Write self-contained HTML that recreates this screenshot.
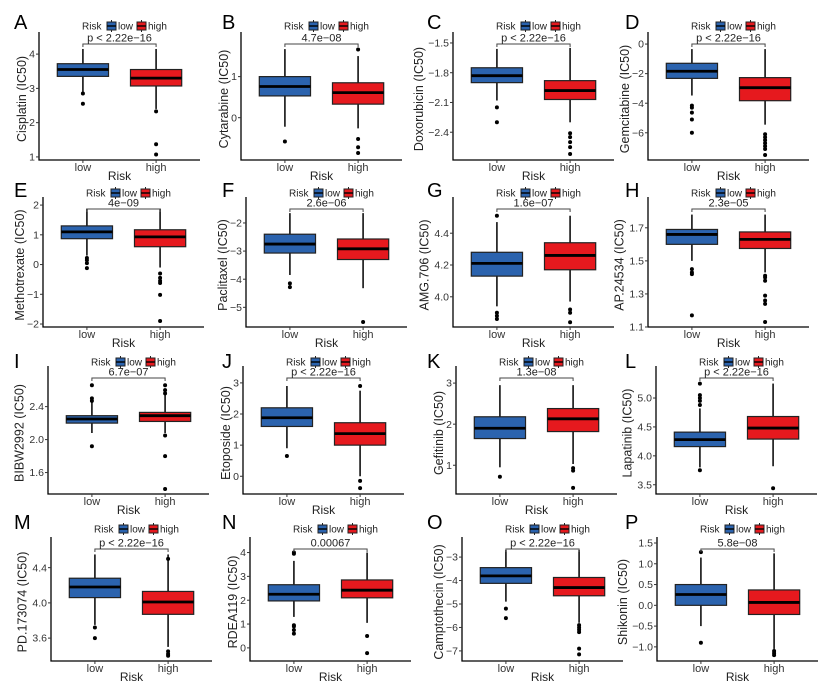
<!DOCTYPE html>
<html><head><meta charset="utf-8">
<style>
html,body{margin:0;padding:0;background:#fff;}
svg{display:block;font-family:"Liberation Sans",Arial,sans-serif;}
</style></head>
<body>
<svg id="fig" width="828" height="696" viewBox="0 0 828 696"></svg>
<script>
// ---- data ----
const panelLetters = ["A","B","C","D","E","F","G","H","I","J","K","L","M","N","O","P"];
const drugNames = ["Cisplatin","Cytarabine","Doxorubicin","Gemcitabine","Methotrexate","Paclitaxel","AMG.706","AP.24534","BIBW2992","Etoposide","Gefitinib","Lapatinib","PD.173074","RDEA119","Camptothecin","Shikonin"];
const pTexts = ["p < 2.22e\u221216","4.7e\u221208","p < 2.22e\u221216","p < 2.22e\u221216","4e\u221209","2.6e\u221206","1.6e\u221207","2.3e\u221205","6.7e\u221207","p < 2.22e\u221216","1.3e\u221208","p < 2.22e\u221216","p < 2.22e\u221216","0.00067","p < 2.22e\u221216","5.8e\u221208"];
const categories = ["low","high"];
const yDomains = [[0.91,4.47],[-1.03,1.94],[-2.68,-1.45],[-7.84,0.41],[-2.1,2.07],[-5.7,-1.29],[3.81,4.59],[1.1,1.85],[1.34,2.82],[-0.57,3.35],[0.3,3.27],[3.34,5.45],[3.34,4.68],[-0.55,4.4],[-7.43,-2.4],[-1.34,1.5]];
const tickValues = [[1,2,3,4],[0,1],[-2.4,-2.1,-1.8,-1.5],[-6,-4,-2,0],[-2,-1,0,1,2],[-5,-4,-3,-2],[4.0,4.2,4.4],[1.1,1.3,1.5,1.7],[1.6,2.0,2.4],[0,1,2,3],[1,2,3],[3.5,4.0,4.5,5.0],[3.6,4.0,4.4],[0,1,2,3,4],[-7,-6,-5,-4,-3],[-1.0,-0.5,0.0,0.5,1.0,1.5]];
const tickLabels = [["1","2","3","4"],["0","1"],["\u22122.4","\u22122.1","\u22121.8","\u22121.5"],["\u22126","\u22124","\u22122","0"],["\u22122","\u22121","0","1","2"],["\u22125","\u22124","\u22123","\u22122"],["4.0","4.2","4.4"],["1.1","1.3","1.5","1.7"],["1.6","2.0","2.4"],["0","1","2","3"],["1","2","3"],["3.5","4.0","4.5","5.0"],["3.6","4.0","4.4"],["0","1","2","3","4"],["\u22127","\u22126","\u22125","\u22124","\u22123"],["\u22121.0","\u22120.5","0.0","0.5","1.0","1.5"]];
// box stats: [whiskerLow, q1, median, q3, whiskerHigh]
const lowStats = [[2.9,3.35,3.55,3.72,4.15],[-0.22,0.53,0.76,1.0,1.67],[-2.08,-1.9,-1.83,-1.75,-1.56],[-3.48,-2.32,-1.84,-1.3,-0.34],[0.3,0.87,1.1,1.3,1.88],[-3.85,-3.07,-2.75,-2.4,-1.65],[3.94,4.13,4.21,4.28,4.47],[1.5,1.6,1.66,1.69,1.78],[2.08,2.2,2.25,2.29,2.46],[0.9,1.6,1.88,2.2,2.9],[0.95,1.65,1.9,2.18,2.95],[3.8,4.16,4.28,4.41,4.82],[3.75,4.06,4.18,4.28,4.55],[1.3,1.97,2.25,2.65,3.65],[-4.9,-4.12,-3.8,-3.45,-2.7],[-0.5,0.0,0.26,0.5,1.15]];
const highStats = [[2.4,3.07,3.3,3.55,4.15],[-0.26,0.33,0.61,0.85,1.5],[-2.3,-2.07,-1.98,-1.88,-1.55],[-5.45,-3.83,-2.95,-2.27,-0.34],[-0.1,0.6,0.93,1.17,1.88],[-4.32,-3.3,-2.92,-2.57,-1.65],[3.97,4.17,4.26,4.34,4.51],[1.43,1.575,1.63,1.675,1.78],[2.08,2.22,2.29,2.33,2.55],[0.0,1.0,1.37,1.72,2.75],[1.03,1.82,2.13,2.38,2.95],[3.82,4.29,4.48,4.68,5.25],[3.5,3.87,4.01,4.13,4.55],[1.05,2.1,2.42,2.85,4.0],[-5.8,-4.65,-4.3,-3.87,-2.7],[-1.05,-0.22,0.07,0.37,1.25]];
const lowOutliers = [[2.85,2.55],[-0.58],[-2.15,-2.3],[-4.16,-4.3,-4.64,-5.1,-6.0],[0.22,0.15,0.05,-0.12],[-4.15,-4.28],[4.51,3.9,3.88,3.86],[1.45,1.43,1.42,1.17],[2.47,2.5,2.66,1.92],[0.65],[0.72],[4.88,4.95,5.0,5.05,5.25,3.75],[3.72,3.6],[4.0,3.95,0.95,0.9,0.75,0.6],[-5.2,-5.6],[1.28,-0.9]];
const highOutliers = [[2.33,1.37,1.07],[1.66,-0.52,-0.72,-0.86],[-2.41,-2.45,-2.5,-2.55,-2.62],[-6.1,-6.3,-6.5,-6.7,-6.9,-7.1,-7.5],[-0.3,-0.45,-0.55,-0.62,-1.02,-1.9],[-5.52],[3.92,3.9,3.84],[1.41,1.4,1.38,1.29,1.26,1.24,1.13],[2.56,2.6,2.66,2.05,1.8,1.4],[2.9,-0.15,-0.38],[0.93,0.87,0.45],[3.44],[4.5,3.45,3.42,3.4],[0.5,-0.22],[-5.9,-6.0,-6.1,-6.2,-6.9,-7.15],[-1.1,-1.15,-1.2]];

// ---- layout (pixel geometry, not data) ----
const axisXs = [39,241,453,648, 43,246,453,648, 48,243,456,656, 51,250,462,657];
const letterXs = [14,222,427,625];
const rowAxisY = [160,327,494,661];
const rowTopY = [38,203,372,543];
const rowLetterY = [29,197,368,529];
const rowLegendY = [26,193,362,529];
const COLORS = ["#2b63ae","#e6191e"];

const NS = "http://www.w3.org/2000/svg";
const svg = document.getElementById("fig");
function mk(tag, attrs, parent){
  const e = document.createElementNS(NS, tag);
  for (const k in attrs) e.setAttribute(k, attrs[k]);
  (parent||svg).appendChild(e);
  return e;
}

panelLetters.forEach((L, i) => {
  const r = Math.floor(i/4), c = i%4;
  const ax = axisXs[i], ay = rowAxisY[r], ty = rowTopY[r];
  const W = 161;
  const g = mk("g", {});
  
  
  const [d0, d1] = yDomains[i];
  const yS = v => ay - (v - d0) / (d1 - d0) * (ay - ty);
  const xS = k => ax + (0.6 + k) / 2.2 * W;
  const bw = 0.7 / 2.2 * W;

  const lt = mk("text", {x: letterXs[c], y: rowLetterY[r], "font-size": 20, fill: "#000"}, g);
  lt.textContent = L;
  
  

  // legend
  const lg = mk("g", {}, g);
  
  
  const ly = rowLegendY[r];
  const lx0 = ax + 43;
  const t1 = mk("text", {x: lx0, y: ly + 3.5, "font-size": 10, fill: "#222"}, lg); t1.textContent = "Risk";
  
  
  categories.forEach((cat, k) => {
    const lx = lx0 + (k === 0 ? 25 : 55);
    const key = mk("g", {}, lg);
    
    
    mk("rect", {x: lx, y: ly - 4, width: 9, height: 8, fill: COLORS[k], stroke: "#222", "stroke-width": 1}, key);
    mk("line", {x1: lx, x2: lx + 9, y1: ly, y2: ly, stroke: "#000", "stroke-width": 1.4}, key);
    mk("line", {x1: lx + 4.5, x2: lx + 4.5, y1: ly - 6, y2: ly - 4, stroke: "#222"}, key);
    mk("line", {x1: lx + 4.5, x2: lx + 4.5, y1: ly + 4, y2: ly + 6, stroke: "#222"}, key);
    const tt = mk("text", {x: lx + 11, y: ly + 3.5, "font-size": 10, fill: "#222"}, key);
    tt.textContent = cat;
  });

  // axes
  const axl = mk("path", {d: `M${ax},${ty - 6}V${ay}H${ax + W}`, stroke: "#000", "stroke-width": 1.3, fill: "none"}, g);
  
  
  let maxCh = 0;
  tickValues[i].forEach((v, j) => {
    const y = yS(v);
    mk("line", {x1: ax - 3, x2: ax, y1: y, y2: y, stroke: "#333", "stroke-width": 1}, g);
    const t = mk("text", {x: ax - 4, y: y + 3.6, "font-size": 10.5, fill: "#333", "text-anchor": "end"}, g);
    t.textContent = tickLabels[i][j];
    
    
    maxCh = Math.max(maxCh, tickLabels[i][j].length);
  });
  const tx = ax - 6 - maxCh * 5.6 - 6;
  const yt = mk("text", {x: tx, y: (ty + ay) / 2, "font-size": 12.5, fill: "#222", "text-anchor": "middle", transform: `rotate(-90 ${tx} ${(ty + ay) / 2})`, dy: "0.35em"}, g);
  yt.textContent = drugNames[i] + " (IC50)";
  
  

  categories.forEach((cat, k) => {
    const x = xS(k);
    mk("line", {x1: x, x2: x, y1: ay, y2: ay + 3, stroke: "#333"}, g);
    const t = mk("text", {x: x, y: ay + 11, "font-size": 11, fill: "#333", "text-anchor": "middle"}, g);
    t.textContent = cat;
    
    
  });
  const xt = mk("text", {x: ax + W / 2, y: ay + 20, "font-size": 12, fill: "#222", "text-anchor": "middle"}, g);
  xt.textContent = "Risk";
  
  

  // boxes
  [lowStats[i], highStats[i]].forEach((s, k) => {
    const x = xS(k);
    const b = mk("g", {}, g);
    
    
    mk("line", {x1: x, x2: x, y1: yS(s[0]), y2: yS(s[4]), stroke: "#111", "stroke-width": 1.6}, b);
    mk("rect", {x: x - bw / 2, y: yS(s[3]), width: bw, height: yS(s[1]) - yS(s[3]), fill: COLORS[k], stroke: "#222", "stroke-width": 1.2}, b);
    mk("line", {x1: x - bw / 2, x2: x + bw / 2, y1: yS(s[2]), y2: yS(s[2]), stroke: "#000", "stroke-width": 2.8}, b);
    const outs = k === 0 ? lowOutliers[i] : highOutliers[i];
    outs.forEach(v => {
      const p = mk("circle", {cx: x, cy: yS(v), r: 2, fill: "#000"}, b);
      
      
    });
  });

  // bracket + p
  const by = ty + 6;
  const br = mk("path", {d: `M${xS(0)},${by + 3}V${by}H${xS(1)}V${by + 3}`, stroke: "#444", "stroke-width": 1, fill: "none"}, g);
  
  
  const pt = mk("text", {x: (xS(0) + xS(1)) / 2, y: by - 2.5, "font-size": 11, fill: "#222", "text-anchor": "middle"}, g);
  pt.textContent = pTexts[i];
  
  
});
</script>
</body></html>
